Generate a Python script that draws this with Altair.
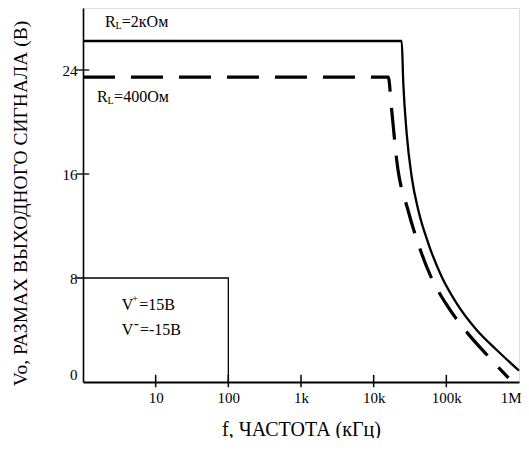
import altair as alt
import pandas as pd

# ---- data ----
# R_L = 2 kOhm (solid)
f_2k = [1, 24300, 25570, 28450, 33340, 41110, 56450, 86300, 138700, 261600, 493300, 1000000]
v_2k = [26.23, 26.23, 22.98, 19.13, 15.79, 13.23, 10.67, 8.1, 6.05, 4.0, 2.46, 0.87]
# R_L = 400 Ohm (dashed)
f_400 = [1, 15890, 17700, 20740, 29650, 40740, 61480, 97300, 180700, 362600, 716400]
v_400 = [23.45, 23.45, 20.92, 17.08, 13.23, 10.69, 8.08, 6.08, 4.0, 2.08, 0.31]

x_ticks = [10, 100, 1000, 10000, 100000, 1000000]
x_labels = ["10", "100", "1k", "10k", "100k", "1M"]
y_ticks = [0, 8, 16, 24]

# inset box (supply conditions)
box_f = [0.8, 100, 100]
box_v = [8, 8, 0]

# annotation pieces (text, frequency position, voltage position, font size)
ann_text = ["R", "L", "=2кОм", "R", "L", "=400Ом", "V", "+", "=15В", "V", "=-15В"]
ann_f = [2.01, 2.8, 3.42, 1.56, 2.17, 2.68, 3.41, 4.75, 5.95, 3.41, 6.09]
ann_v = [27.69, 27.36, 27.69, 21.92, 21.6, 21.92, 5.92, 6.35, 5.92, 4.0, 4.0]
ann_size = [16, 10, 16, 16, 10, 16, 16, 10, 16, 16, 16]
# bold superscript minus
minus_text = ["-"]
minus_f = [5.05]
minus_v = [4.5]

FONT = "Liberation Serif, Times New Roman, DejaVu Serif, serif"

df = pd.DataFrame(
    {"f": f_2k + f_400,
     "v": v_2k + v_400,
     "s": ["2k"] * len(f_2k) + ["400"] * len(f_400),
     "i": list(range(len(f_2k))) + list(range(len(f_400)))}
)

xs = alt.Scale(type="log", domain=[1, 1000000], nice=False)
ys = alt.Scale(domain=[0, 28.77], nice=False, zero=False)

label_expr = "{" + ",".join(f"'{v}':'{l}'" for v, l in zip(x_ticks, x_labels)) + "}[datum.value]"

x_axis = alt.Axis(values=x_ticks, labelExpr=label_expr, ticks=False, grid=False,
                  domainColor="black", domainWidth=2.2, labelFont=FONT, labelFontSize=15,
                  labelColor="black", labelPadding=8, title="f, ЧАСТОТА (кГц)",
                  titleFont=FONT, titleFontSize=20, titleFontWeight="normal", titleColor="black",
                  titleY=47, titleBaseline="middle", labelFlush=True, labelFlushOffset=2,
                  labelOverlap=False)
y_axis = alt.Axis(values=y_ticks, ticks=False, grid=False, domainColor="black", domainWidth=1.6,
                  labelFont=FONT, labelFontSize=15, labelColor="black", labelPadding=6,
                  labelBaseline={"condition": {"test": "datum.value === 0", "value": "bottom"},
                                 "value": "middle"},
                  title="Vo, РАЗМАХ ВЫХОДНОГО СИГНАЛА (В)", titleFont=FONT, titleFontSize=19.5,
                  titleFontWeight="normal", titleColor="black", titleAngle=270,
                  titleX=-63, titleY=195, titleBaseline="middle", titleAlign="center")

base = alt.Chart(df)

solid = base.transform_filter("datum.s == '2k'").mark_line(
    color="black", strokeWidth=2.3, interpolate="monotone", strokeJoin="miter"
).encode(x=alt.X("f:Q", scale=xs, axis=x_axis), y=alt.Y("v:Q", scale=ys, axis=y_axis), order="i:Q")

dashed = base.transform_filter("datum.s == '400'").mark_line(
    color="black", strokeWidth=3.2, strokeDash=[32, 16], interpolate="monotone", strokeJoin="miter"
).encode(x=alt.X("f:Q", scale=xs), y=alt.Y("v:Q", scale=ys), order="i:Q")

box = alt.Chart(pd.DataFrame({"f": box_f, "v": box_v, "i": [0, 1, 2]})).mark_line(
    color="black", strokeWidth=1.3
).encode(x=alt.X("f:Q", scale=xs), y=alt.Y("v:Q", scale=ys), order="i:Q")

xt = alt.Chart(pd.DataFrame({"f": x_ticks[:-1]})).mark_rule(color="black", strokeWidth=1.5).encode(
    x=alt.X("f:Q", scale=xs), y=alt.datum(-0.4, scale=ys), y2=alt.datum(0.55))
yt = alt.Chart(pd.DataFrame({"v": [16, 24]})).mark_rule(color="black", strokeWidth=1.3).encode(
    y=alt.Y("v:Q", scale=ys), x=alt.datum(0.8, scale=xs), x2=alt.datum(1.22))

ann = alt.Chart(pd.DataFrame({"t": ann_text, "f": ann_f, "v": ann_v, "sz": ann_size})).mark_text(
    font=FONT, color="black", align="left", baseline="middle"
).encode(x=alt.X("f:Q", scale=xs), y=alt.Y("v:Q", scale=ys), text="t:N",
         size=alt.Size("sz:Q", scale=None))

minus = alt.Chart(pd.DataFrame({"t": minus_text, "f": minus_f, "v": minus_v})).mark_text(
    font=FONT, color="black", align="left", baseline="middle", fontSize=14, fontWeight="bold"
).encode(x=alt.X("f:Q", scale=xs), y=alt.Y("v:Q", scale=ys), text="t:N")

chart = alt.layer(box, solid, dashed, xt, yt, ann, minus).properties(
    width=436, height=374,
    padding={"left": 75, "top": 0, "right": 2, "bottom": 56},
    autosize=alt.AutoSizeParams(type="none"),
).configure_view(stroke="black", strokeWidth=1.5).configure(background="white")

chart.save("out.html", embed_options={"renderer": "svg", "actions": False})
